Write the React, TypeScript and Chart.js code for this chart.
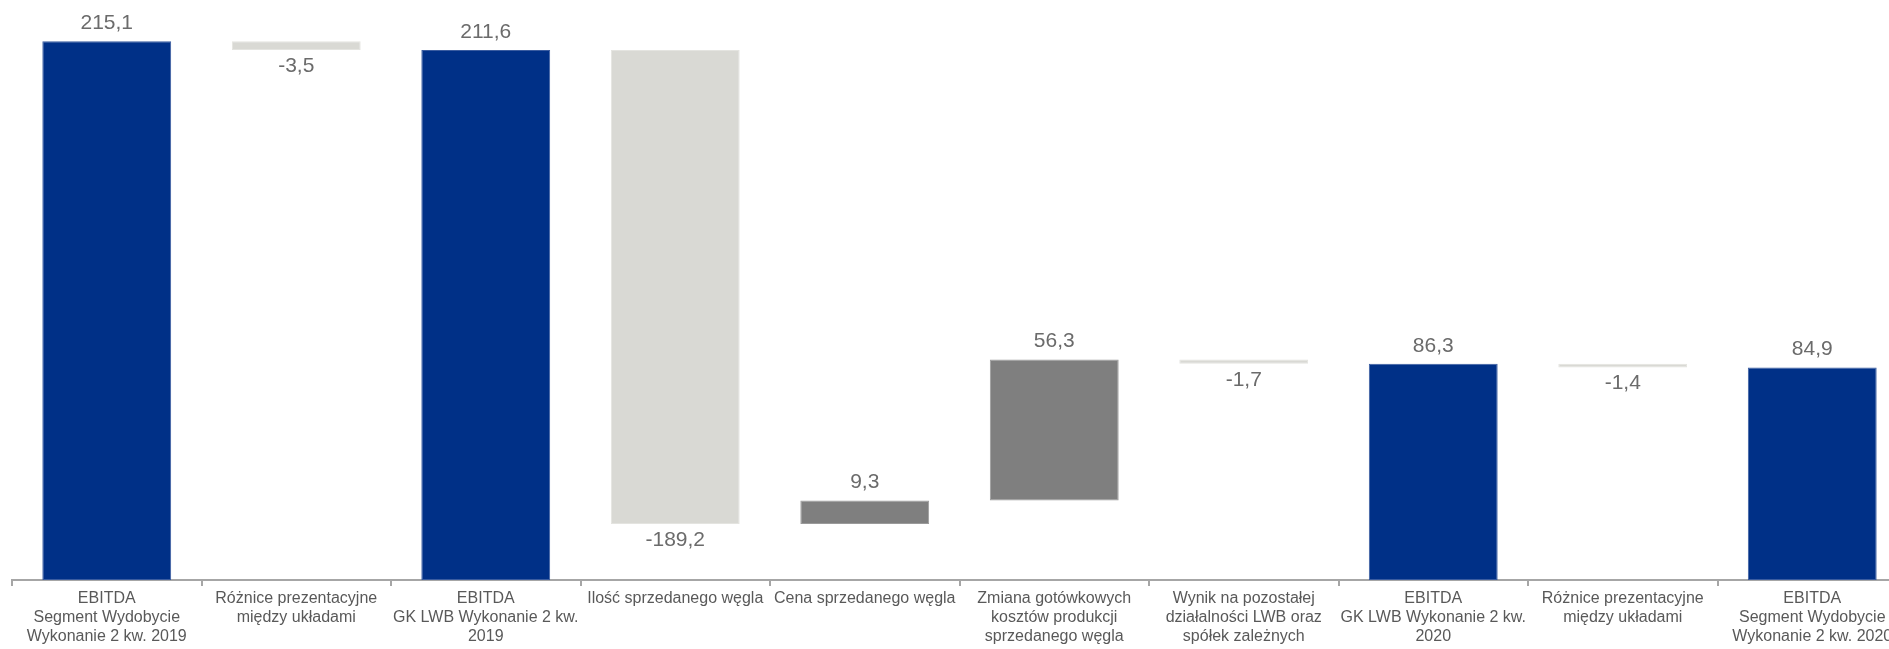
import React, { useEffect, useRef } from "react";
import { Chart, registerables } from "chart.js";

Chart.register(...registerables);

const categories: string[][] = [
  ["EBITDA", "Segment Wydobycie", "Wykonanie 2 kw. 2019"],
  ["Różnice prezentacyjne", "między układami"],
  ["EBITDA", "GK LWB Wykonanie 2 kw.", "2019"],
  ["Ilość sprzedanego węgla"],
  ["Cena sprzedanego węgla"],
  ["Zmiana gotówkowych", "kosztów produkcji", "sprzedanego węgla"],
  ["Wynik na pozostałej", "działalności LWB oraz", "spółek zależnych"],
  ["EBITDA", "GK LWB Wykonanie 2 kw.", "2020"],
  ["Różnice prezentacyjne", "między układami"],
  ["EBITDA", "Segment Wydobycie", "Wykonanie 2 kw. 2020"],
];

const values: number[] = [215.1, -3.5, 211.6, -189.2, 9.3, 56.3, -1.7, 86.3, -1.4, 84.9];
const isTotal: boolean[] = [true, false, true, false, false, false, false, true, false, true];

const COLOR_TOTAL = "#003087";
const COLOR_UP = "#7f7f7f";
const COLOR_DOWN = "#d9d9d4";

function buildFloating(): [number, number][] {
  const out: [number, number][] = [];
  let running = 0;
  values.forEach((v, i) => {
    if (isTotal[i]) {
      out.push([0, v]);
      running = v;
    } else {
      out.push([running, running + v]);
      running = running + v;
    }
  });
  return out;
}

function fmt(v: number): string {
  return v.toFixed(1).replace(".", ",");
}

export default function App() {
  const ref = useRef<HTMLCanvasElement | null>(null);

  useEffect(() => {
    if (!ref.current) return;
    const floating = buildFloating();
    const bg = values.map((v, i) => (isTotal[i] ? COLOR_TOTAL : v >= 0 ? COLOR_UP : COLOR_DOWN));
    const bc = values.map((v, i) => (isTotal[i] ? "#3a5ca0" : v >= 0 ? "#9a9a9a" : "#e4e4e0"));

    const labelPlugin = {
      id: "wfLabels",
      afterDatasetsDraw(chart: any) {
        const ctx = chart.ctx;
        const meta = chart.getDatasetMeta(0);
        ctx.save();
        ctx.font = '21px "Liberation Sans", Arial, sans-serif';
        ctx.fillStyle = "#6b6b6b";
        ctx.textAlign = "center";
        ctx.textBaseline = "middle";
        meta.data.forEach((el: any, i: number) => {
          const v = values[i];
          const top = Math.min(el.y, el.base);
          const bottom = Math.max(el.y, el.base);
          if (isTotal[i] || v >= 0) {
            ctx.fillText(fmt(v), el.x, top - 18);
          } else {
            ctx.fillText(fmt(v), el.x, bottom + 16);
          }
        });
        ctx.restore();
      },
    };

    const chart = new Chart(ref.current, {
      type: "bar",
      data: {
        labels: categories,
        datasets: [
          {
            data: floating as any,
            backgroundColor: bg,
            borderColor: bc,
            borderWidth: 1,
            borderSkipped: false,
            barPercentage: 0.68,
            categoryPercentage: 1,
          },
        ],
      },
      options: {
        responsive: false,
        animation: false,
        devicePixelRatio: 1,
        layout: { padding: { left: 12, right: 13, top: 4, bottom: 0 } },
        plugins: {
          legend: { display: false },
          tooltip: { enabled: false },
          title: { display: false },
        },
        scales: {
          x: {
            grid: {
              display: true,
              drawOnChartArea: false,
              drawTicks: true,
              tickLength: 6,
              color: "#a6a6a6",
              lineWidth: 2,
              offset: true,
            },
            border: { display: true, color: "#a6a6a6", width: 2 },
            ticks: {
              color: "#595959",
              font: { family: '"Liberation Sans", Arial, sans-serif', size: 16 },
              padding: 3,
              maxRotation: 0,
              minRotation: 0,
              autoSkip: false,
            },
            afterFit(scale: any) {
              scale.height = 69;
            },
          },
          y: {
            display: false,
            min: 0,
            max: 230,
          },
        },
      },
      plugins: [labelPlugin],
    });
    return () => chart.destroy();
  }, []);

  return (
    <div
      style={{
        position: "fixed",
        left: 0,
        top: 0,
        width: 1889,
        height: 649,
        overflow: "hidden",
        background: "#ffffff",
      }}
    >
      <canvas ref={ref} width={1920} height={649} style={{ display: "block", width: 1920, height: 649 }} />
    </div>
  );
}
